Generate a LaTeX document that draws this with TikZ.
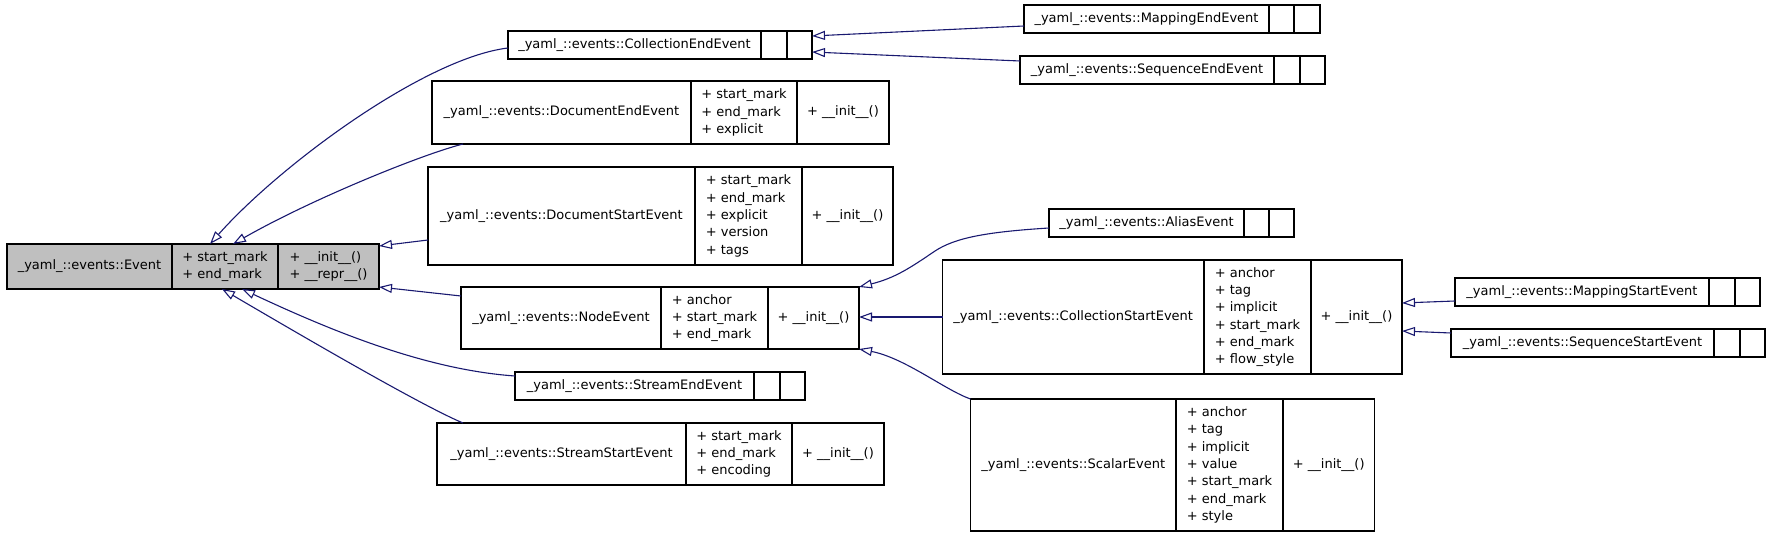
\documentclass[tikz,border=0pt]{standalone}
\usepackage{fontspec}
\setmainfont{DejaVu Sans}
\usetikzlibrary{arrows.meta}
\definecolor{edgeblue}{HTML}{191970}
\definecolor{evgray}{HTML}{BFBFBF}
\newcommand\umlclass[9]{%
 \def\ucid{#1}\def\ucxa{#2}\def\ucda{#3}\def\ucdb{#4}\def\ucxb{#5}%
 \def\ucya{#6}\def\ucyb{#7}\def\ucname{#8}\def\ucattr{#9}\umlclassfinish}
\newcommand\umlclassfinish[1]{%
 \node[classbox, minimum width={(\ucxb-\ucxa)*1pt}, minimum height={(\ucyb-\ucya)*1pt}] (\ucid) at ({(\ucxa+\ucxb)/2},{(\ucya+\ucyb)/2}) {};
 \draw[classline] (\ucda,\ucya) -- (\ucda,\ucyb) (\ucdb,\ucya) -- (\ucdb,\ucyb);
 \node[classtext] (\ucid-name) at ({(\ucxa+\ucda)/2},{(\ucya+\ucyb)/2}) {\ucname};
 \node[classtext, align=left] (\ucid-attr) at ({(\ucda+\ucdb)/2},{(\ucya+\ucyb)/2}) {\ucattr};
 \node[classtext, align=left] (\ucid-meth) at ({(\ucdb+\ucxb)/2},{(\ucya+\ucyb)/2}) {#1};
}
\newcommand\ev{\_yaml\_::events::}
\newcommand\ini{+ \_\_init\_\_()}
\begin{document}
\begin{tikzpicture}[x=1pt, y=-1pt,
  classbox/.style={draw=black, line width=1.2pt, fill=white, inner sep=0pt, outer sep=0pt, rectangle},
  classline/.style={draw=black, line width=1.2pt},
  classtext/.style={inner sep=0pt, font=\fontsize{13}{17.3}\selectfont},
  inherit/.style={draw=edgeblue, line width=1.1pt, -{Triangle[open, length=13pt, width=9pt]}}]
\useasboundingbox (0,0) rectangle (1770,534);
\begin{scope}[classbox/.append style={fill=evgray}]
\umlclass{ev}{7}{172}{278}{379}{244}{289}{\ev Event}{+ start\_mark\\+ end\_mark}{+ \_\_init\_\_()\\+ \_\_repr\_\_()}
\end{scope}
\umlclass{colend}{508}{761}{787}{812}{31}{59}{\ev CollectionEndEvent}{}{}
\umlclass{docend}{432}{691}{797}{889}{81}{144}{\ev DocumentEndEvent}{+ start\_mark\\+ end\_mark\\+ explicit}{\ini}
\umlclass{docstart}{428}{695}{802}{893}{167}{265}{\ev DocumentStartEvent}{+ start\_mark\\+ end\_mark\\+ explicit\\+ version\\+ tags}{\ini}
\umlclass{nodeev}{461}{661}{768}{859}{287}{349}{\ev NodeEvent}{+ anchor\\+ start\_mark\\+ end\_mark}{\ini}
\umlclass{streamend}{515}{754}{780}{805}{372}{400}{\ev StreamEndEvent}{}{}
\umlclass{streamstart}{437}{686}{792}{884}{423}{485}{\ev StreamStartEvent}{+ start\_mark\\+ end\_mark\\+ encoding}{\ini}
\umlclass{mapend}{1024}{1269}{1294}{1320}{5}{33}{\ev MappingEndEvent}{}{}
\umlclass{seqend}{1020}{1274}{1300}{1325}{56}{84}{\ev SequenceEndEvent}{}{}
\umlclass{alias}{1049}{1244}{1269}{1294}{209}{237}{\ev AliasEvent}{}{}
\umlclass{colstart}{942.5}{1204}{1311}{1402}{260}{374}{\ev CollectionStartEvent}{+ anchor\\+ tag\\+ implicit\\+ start\_mark\\+ end\_mark\\+ flow\_style}{\ini}
\umlclass{scalar}{970.5}{1176}{1283}{1374.5}{399}{531}{\ev ScalarEvent}{+ anchor\\+ tag\\+ implicit\\+ value\\+ start\_mark\\+ end\_mark\\+ style}{\ini}
\umlclass{mapstart}{1455}{1709}{1735}{1760}{278}{306}{\ev MappingStartEvent}{}{}
\umlclass{seqstart}{1451}{1714}{1740}{1765}{329}{357}{\ev SequenceStartEvent}{}{}
% edges
\draw[inherit] ([yshift=-3pt]colend.west) .. controls (425,58) and (280,165) .. ([xshift=17pt]ev.north);
\draw[inherit] ([xshift=31pt]docend.south west) .. controls (420,155) and (310,200) .. ([xshift=40pt]ev.north);
\draw[inherit] ([yshift=-24pt]docstart.west) -- ([yshift=-2pt]ev.north east);
\draw[inherit] ([yshift=22pt]nodeev.west) -- ([yshift=2pt]ev.south east);
\draw[inherit] ([yshift=10pt]streamend.west) .. controls (430,370) and (340,335) .. ([xshift=49pt]ev.south);
\draw[inherit] ([xshift=26pt]streamstart.north west) .. controls (420,405) and (292,330) .. ([xshift=29pt]ev.south);
\draw[inherit] ([yshift=-7pt]mapend.west) -- ([yshift=9pt]colend.east);
\draw[inherit] ([yshift=9pt]seqend.west) -- ([yshift=-7pt]colend.east);
\draw[inherit] ([yshift=-5pt]alias.west) .. controls (985,232) and (955,238) .. (935,251) .. controls (910,268) and (895,278) .. (nodeev.north east);
\draw[inherit] (colstart.west) -- (colstart.west -| nodeev.east);
\draw[inherit] (scalar.north west) .. controls (945,390) and (905,358) .. (nodeev.south east);
\draw[inherit] ([yshift=-9pt]mapstart.west) -- ([yshift=14pt]colstart.east);
\draw[inherit] ([yshift=10pt]seqstart.west) -- ([yshift=-14pt]colstart.east);
\end{tikzpicture}
\end{document}
